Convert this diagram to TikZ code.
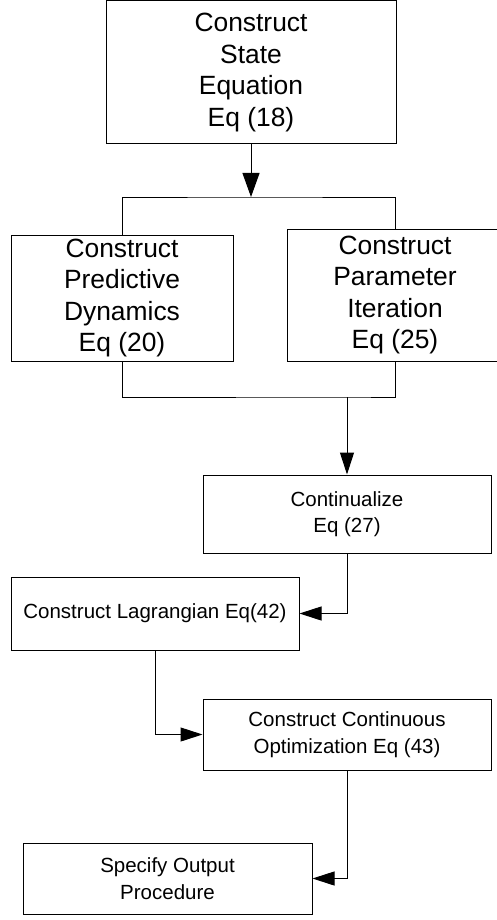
\documentclass[tikz,border=0pt]{standalone}
\usepackage{fontspec}
\setmainfont{Liberation Sans}
\usetikzlibrary{arrows.meta}
\begin{document}
\begin{tikzpicture}[x=1pt,y=-1pt,
  box/.style={draw=black,line width=1pt,rectangle,inner sep=0pt,align=center,fill=white},
  bigtxt/.style={font=\fontsize{26.4}{31.5}\selectfont},
  smalltxt/.style={font=\fontsize{20.5}{26.5}\selectfont},
  link/.style={draw=black,line width=1pt},
  bigarrow/.style={link,-{Triangle[length=24pt,width=17pt]}},
  arrow/.style={link,-{Triangle[length=22pt,width=14pt]}}]
  \useasboundingbox (0,0) rectangle (496,920);
  % process boxes
  \node[box,bigtxt,minimum width=290pt,minimum height=143pt] (state) at (251,72.5)
    {Construct\\State\\Equation\\Eq (18)};
  \node[box,bigtxt,minimum width=222pt,minimum height=126pt] (pred) at (122,298)
    {Construct\\Predictive\\Dynamics\\Eq (20)};
  \node[box,bigtxt,minimum width=216pt,minimum height=132pt] (param) at (395,295)
    {Construct\\Parameter\\Iteration\\Eq (25)};
  \node[box,smalltxt,minimum width=288pt,minimum height=78pt] (cont) at (347,514)
    {Continualize\\Eq (27)};
  \node[box,smalltxt,minimum width=288pt,minimum height=73pt] (lag) at (155,613.5)
    {Construct Lagrangian Eq(42)};
  \node[box,smalltxt,minimum width=288pt,minimum height=71pt] (opt) at (347,734.5)
    {Construct Continuous\\Optimization Eq (43)};
  \node[box,smalltxt,minimum width=289pt,minimum height=71pt] (out) at (167.5,878.5)
    {Specify Output\\Procedure};
  % split and merge points
  \coordinate (split) at (251,197);
  \coordinate (merge) at (347,397);
  % connectors
  \draw[bigarrow] (state.south) -- (split);
  \draw[link] (pred.north) |- (split) -| (param.north);
  \draw[link] (pred.south) |- (merge) -| (param.south);
  \draw[arrow] (merge) -- (cont.north);
  \draw[arrow] (cont.south) |- (lag.east);
  \draw[arrow] (lag.south) |- (opt.west);
  \draw[arrow] (opt.south) |- (out.east);
\end{tikzpicture}
\end{document}
